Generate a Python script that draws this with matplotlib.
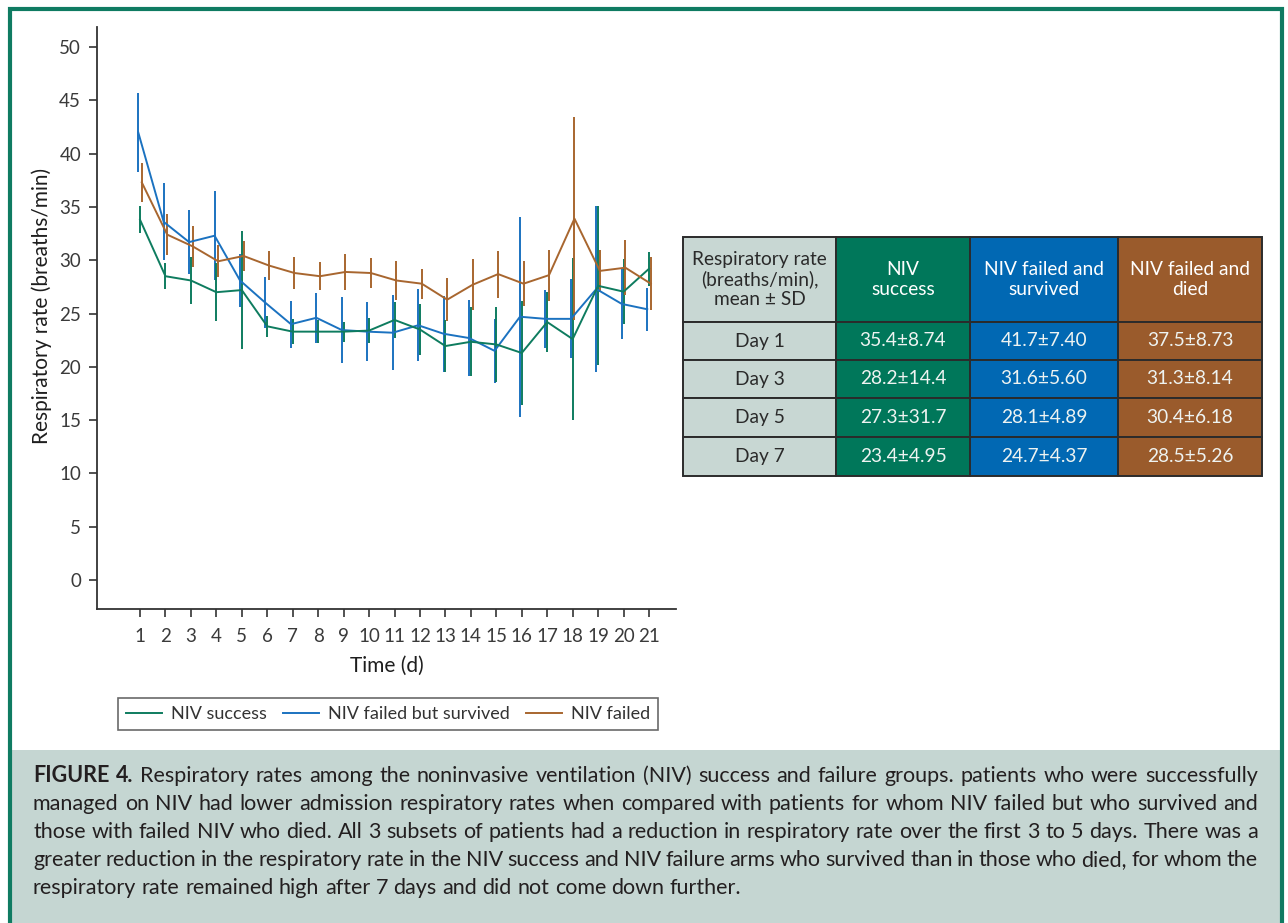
import matplotlib
matplotlib.use('Agg')
import matplotlib.pyplot as plt
from matplotlib.patches import Rectangle
from matplotlib.lines import Line2D
import numpy as np

plt.rcParams['font.family'] = ['Lato', 'DejaVu Sans']

# ---------------- data ----------------
days = list(range(1, 22))
success_mean = [33.8, 28.5, 28.1, 27.0, 27.2, 23.8, 23.3, 23.3, 23.3, 23.4, 24.4,
                23.5, 21.95, 22.35, 22.1, 21.3, 24.2, 22.6, 27.6, 27.05, 29.2]
success_sd = [1.25, 1.2, 2.2, 2.7, 5.5, 1.0, 1.2, 1.05, 0.95, 1.2, 1.65,
              2.35, 2.4, 3.25, 3.5, 4.85, 2.8, 7.6, 7.45, 3.05, 1.6]
survived_mean = [42.0, 33.6, 31.7, 32.3, 28.1, 26.0, 24.0, 24.6, 23.45, 23.3, 23.2,
                 23.9, 23.1, 22.7, 21.5, 24.7, 24.5, 24.5, 27.3, 25.9, 25.4]
survived_sd = [3.7, 3.6, 3.0, 4.2, 2.5, 2.4, 2.2, 2.35, 3.1, 2.75, 3.5,
               3.4, 3.55, 3.6, 3.0, 9.4, 2.75, 3.7, 7.8, 3.3, 2.0]
died_mean = [37.3, 32.4, 31.3, 29.9, 30.4, 29.5, 28.8, 28.5, 28.9, 28.8, 28.1,
             27.8, 26.3, 27.7, 28.7, 27.8, 28.6, 33.9, 29.0, 29.3, 27.8]
died_sd = [1.85, 1.9, 1.9, 1.5, 1.45, 1.4, 1.5, 1.3, 1.65, 1.4, 1.8,
           1.4, 2.0, 2.4, 2.2, 2.1, 2.4, 9.5, 2.0, 2.6, 2.5]
series_labels = ['NIV success', 'NIV failed but survived', 'NIV failed']
y_ticks = [0, 5, 10, 15, 20, 25, 30, 35, 40, 45, 50]

table_col_headers = ['Respiratory rate\n(breaths/min),\nmean ± SD', 'NIV\nsuccess',
                     'NIV failed and\nsurvived', 'NIV failed and\ndied']
table_row_labels = ['Day 1', 'Day 3', 'Day 5', 'Day 7']
table_success = ['35.4±8.74', '28.2±14.4', '27.3±31.7', '23.4±4.95']
table_survived = ['41.7±7.40', '31.6±5.60', '28.1±4.89', '24.7±4.37']
table_died = ['37.5±8.73', '31.3±8.14', '30.4±6.18', '28.5±5.26']

caption_lines = [
    "FIGURE 4. Respiratory rates among the noninvasive ventilation (NIV) success and failure groups. patients who were successfully",
    "managed on NIV had lower admission respiratory rates when compared with patients for whom NIV failed but who survived and",
    "those with failed NIV who died. All 3 subsets of patients had a reduction in respiratory rate over the first 3 to 5 days. There was a",
    "greater reduction in the respiratory rate in the NIV success and NIV failure arms who survived than in those who died, for whom the",
    "respiratory rate remained high after 7 days and did not come down further.",
]

# ---------------- styling ----------------
c_green, c_blue, c_brown = '#0E7C5F', '#1B72C0', '#A8662F'
hdr_colors = ['#C8D7D3', '#00775A', '#0168B3', '#9A5B2C']
text_dark = '#2a2a2a'

W, H = 1288, 923
fig = plt.figure(figsize=(W / 100, H / 100), dpi=100)


def fx(px):
    return px / W


def fy(py):
    return 1 - py / H


# caption background and frame
fig.patches.append(Rectangle((fx(12), fy(923)), fx(1280) - fx(12), fy(750) - fy(923),
                             transform=fig.transFigure, facecolor='#C5D6D2',
                             edgecolor='none', zorder=0))
fig.patches.append(Rectangle((fx(10), fy(930)), (1282 - 10) / W, (930 - 9) / H,
                             transform=fig.transFigure, fill=False,
                             edgecolor='#0F7B62', linewidth=3.0, zorder=5))

# ---------------- chart ----------------
ax = fig.add_axes([fx(97), fy(609), fx(676) - fx(97), fy(27) - fy(609)])
x = np.array(days, dtype=float)
for mean, sd, col, off, lab in [
        (survived_mean, survived_sd, c_blue, -0.07, series_labels[1]),
        (success_mean, success_sd, c_green, 0.0, series_labels[0]),
        (died_mean, died_sd, c_brown, 0.07, series_labels[2])]:
    ax.errorbar(x + off, mean, yerr=sd, color=col, lw=1.4, elinewidth=1.4,
                capsize=0, label=lab)

ax.set_xlim(-0.69, 22.06)
ax.set_ylim(-2.72, 51.88)
ax.set_xticks(days)
ax.set_xticklabels([str(d) for d in days])
ax.set_yticks(y_ticks)
for s in ['top', 'right']:
    ax.spines[s].set_visible(False)
for s in ['left', 'bottom']:
    ax.spines[s].set_color('#333333')
    ax.spines[s].set_linewidth(1.3)
ax.tick_params(axis='both', length=5.5, width=1.2, color='#333333',
               labelsize=13.5, labelcolor='#3a3a3a')
ax.tick_params(axis='x', pad=8)
ax.tick_params(axis='y', pad=6)
ax.set_xlabel('Time (d)', fontsize=15, color='#1e1e1e', va='center')
ax.xaxis.set_label_coords(0.5, (609 - 666) / 582)
ax.set_ylabel('Respiratory rate (breaths/min)', fontsize=15, color='#1e1e1e',
              va='center')
ax.yaxis.set_label_coords((42 - 97) / 579, 0.52)

handles = [Line2D([], [], color=c_green, lw=1.4),
           Line2D([], [], color=c_blue, lw=1.4),
           Line2D([], [], color=c_brown, lw=1.4)]
leg = fig.legend(handles, series_labels, loc='center', ncol=3,
                 bbox_to_anchor=(fx((119 + 657) / 2), fy(714)), frameon=True,
                 fancybox=False, edgecolor='#444444', fontsize=13,
                 handlelength=2.0, columnspacing=0.9, handletextpad=0.5,
                 borderpad=0.45)
leg.get_frame().set_linewidth(1.2)
for t in leg.get_texts():
    t.set_color('#333333')

# ---------------- table ----------------
col_edges = [683, 836, 970, 1118, 1262]
row_edges = [237, 322, 360, 398, 437, 476]
tax = fig.add_axes([fx(683), fy(476), fx(1262) - fx(683), fy(237) - fy(476)])
tax.set_xlim(683, 1262)
tax.set_ylim(476, 237)
tax.axis('off')
columns = [table_row_labels, table_success, table_survived, table_died]
for ci in range(4):
    x0, x1 = col_edges[ci], col_edges[ci + 1]
    for ri in range(5):
        y0, y1 = row_edges[ri], row_edges[ri + 1]
        tax.add_patch(Rectangle((x0, y0), x1 - x0, y1 - y0, facecolor=hdr_colors[ci],
                                edgecolor='#2b2b2b', linewidth=1.4, clip_on=False))
        txt = table_col_headers[ci] if ri == 0 else columns[ci][ri - 1]
        col = text_dark if ci == 0 else ('white' if ri == 0 else '#EEF3F1')
        tax.text((x0 + x1) / 2, (y0 + y1) / 2, txt, ha='center', va='center',
                 fontsize=13.8, color=col, linespacing=1.2)

# ---------------- caption (justified) ----------------
renderer = fig.canvas.get_renderer()
cap_left, cap_right = 33, 1258
line_y = [782, 810, 838, 866, 894]
cap_fs = 15.5
probe_a = fig.text(0, 0, 'a a', fontsize=cap_fs)
probe_b = fig.text(0, 0, 'aa', fontsize=cap_fs)
space_w = probe_a.get_window_extent(renderer).width - probe_b.get_window_extent(renderer).width
probe_a.remove()
probe_b.remove()
for i, line in enumerate(caption_lines):
    words = line.split(' ')
    texts = []
    for j, w in enumerate(words):
        bold = (i == 0 and j < 2)
        t = fig.text(0, fy(line_y[i]), w, fontsize=cap_fs,
                     fontweight='bold' if bold else 'normal',
                     color='#231F20', va='baseline', ha='left')
        texts.append(t)
    widths = [t.get_window_extent(renderer).width for t in texts]
    if i < len(caption_lines) - 1:
        gap = (cap_right - cap_left - sum(widths)) / (len(words) - 1)
    else:
        gap = space_w
    xp = cap_left
    for t, wd in zip(texts, widths):
        t.set_x(fx(xp))
        xp += wd + gap

fig.savefig('out.png', dpi=100)
